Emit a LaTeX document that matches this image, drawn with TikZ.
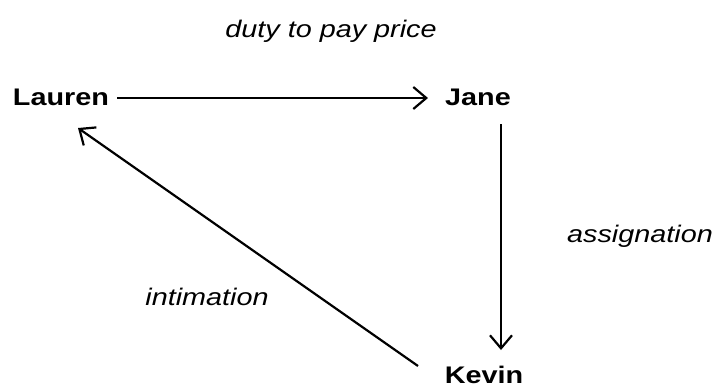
\documentclass[tikz,border=0pt]{standalone}
\usepackage{fontspec}
\setmainfont{Liberation Sans}
\usetikzlibrary{arrows.meta}
\tikzset{
  person/.style={anchor=base, inner sep=0pt, font=\fontsize{24}{28}\selectfont\bfseries},
  lbl/.style={anchor=base, inner sep=0pt, font=\fontsize{24}{28}\selectfont\itshape},
  conn/.style={line width=2.2pt, -{Straight Barb[length=13pt,width=22pt,line width=2.2pt]}}
}
\newcommand{\wide}[1]{\scalebox{1.2}[1]{#1}}
\begin{document}
\begin{tikzpicture}[x=1pt,y=-1pt]
\useasboundingbox (0,0) rectangle (718,389);
\node[person] (lauren) at (61,105) {\wide{Lauren}};
\node[person] (jane) at (478,105) {\wide{Jane}};
\node[person] (kevin) at (484,383) {\wide{Kevin}};
\node[lbl] (duty) at (331,37) {\wide{duty to pay price}};
\node[lbl] (assign) at (640,242) {\wide{assignation}};
\node[lbl] (intim) at (207,305) {\wide{intimation}};
\coordinate (a1) at (117,98);
\coordinate (a2) at (428,98);
\coordinate (b1) at (501,124);
\coordinate (b2) at (501,350);
\coordinate (c1) at (418,366);
\coordinate (c2) at (78,128);
\draw[conn] (a1) -- (a2);
\draw[conn] (b1) -- (b2);
\draw[conn] (c1) -- (c2);
\end{tikzpicture}
\end{document}
